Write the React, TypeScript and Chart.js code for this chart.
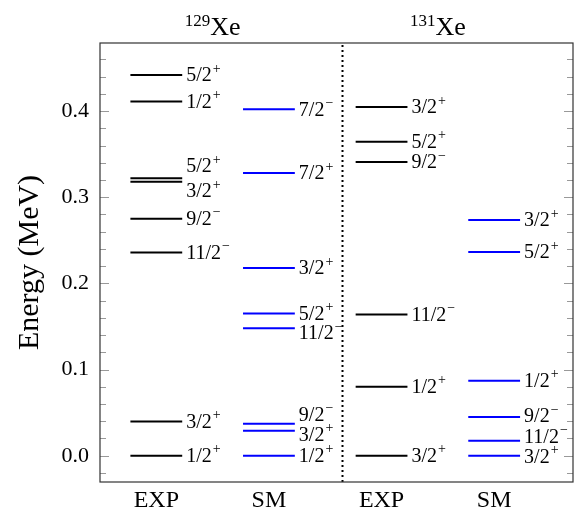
import React, { useEffect, useRef } from 'react';
import { Chart, registerables } from 'chart.js';

Chart.register(...registerables);

// ---- Data ----
const columnCategories = ['EXP', 'SM', 'EXP', 'SM'];
const nucleusTitles = [
  { mass: '129', symbol: 'Xe' },
  { mass: '131', symbol: 'Xe' },
];

const exp129Energies = [0, 0.0396, 0.236, 0.275, 0.318, 0.322, 0.411, 0.442];
const exp129Spins = ['1/2+', '3/2+', '11/2-', '9/2-', '3/2+', '5/2+', '1/2+', '5/2+'];
const exp129LabelE = [0, 0.0396, 0.236, 0.275, 0.307, 0.336, 0.411, 0.442];

const sm129Energies = [0, 0.029, 0.037, 0.148, 0.165, 0.218, 0.328, 0.402];
const sm129Spins = ['1/2+', '3/2+', '9/2-', '11/2-', '5/2+', '3/2+', '7/2+', '7/2-'];
const sm129LabelE = [0, 0.0243, 0.0475, 0.1426, 0.165, 0.218, 0.328, 0.402];

const exp131Energies = [0, 0.080, 0.164, 0.341, 0.3645, 0.4048];
const exp131Spins = ['3/2+', '1/2+', '11/2-', '9/2-', '5/2+', '3/2+'];
const exp131LabelE = [0, 0.080, 0.164, 0.341, 0.3645, 0.4048];

const sm131Energies = [0, 0.0174, 0.045, 0.087, 0.2365, 0.2736];
const sm131Spins = ['3/2+', '11/2-', '9/2-', '1/2+', '5/2+', '3/2+'];
const sm131LabelE = [-0.001, 0.022, 0.046, 0.087, 0.2365, 0.2736];

const yMajorTicks = [0, 0.1, 0.2, 0.3, 0.4];
const yMinorTicks = [-0.02, 0.02, 0.04, 0.06, 0.08, 0.12, 0.14, 0.16, 0.18, 0.22, 0.24, 0.26, 0.28, 0.32, 0.34, 0.36, 0.38, 0.42, 0.44, 0.46];
const yTitle = 'Energy (MeV)';

// ---- Styling / layout ----
const FONT = '"Liberation Serif", "DejaVu Serif", serif';
const HALF = 0.23;
const DIVIDER_X = 1.645;
const EXP_COLOR = '#000000';
const SM_COLOR = '#0000ff';

const columns = [
  { center: 0, energies: exp129Energies, spins: exp129Spins, labelE: exp129LabelE, color: EXP_COLOR },
  { center: 1, energies: sm129Energies, spins: sm129Spins, labelE: sm129LabelE, color: SM_COLOR },
  { center: 2, energies: exp131Energies, spins: exp131Spins, labelE: exp131LabelE, color: EXP_COLOR },
  { center: 3, energies: sm131Energies, spins: sm131Spins, labelE: sm131LabelE, color: SM_COLOR },
];

function levelPoints(center: number, energies: number[]) {
  const pts: { x: number; y: number | null }[] = [];
  energies.forEach((e) => {
    pts.push({ x: center - HALF, y: e });
    pts.push({ x: center + HALF, y: e });
    pts.push({ x: center + HALF, y: null });
  });
  return pts;
}

const decorPlugin = {
  id: 'decor',
  afterDraw(chart: any) {
    const { ctx, chartArea } = chart;
    const xs = chart.scales.x;
    const ys = chart.scales.y;
    const { left, right, top, bottom } = chartArea;
    ctx.save();

    // dotted divider
    const dx = Math.round(xs.getPixelForValue(DIVIDER_X)) + 0.5;
    ctx.strokeStyle = '#000';
    ctx.lineWidth = 2;
    ctx.setLineDash([2, 3]);
    ctx.beginPath();
    ctx.moveTo(dx, top + 2);
    ctx.lineTo(dx, bottom);
    ctx.stroke();
    ctx.setLineDash([]);

    // ticks (inward, both sides)
    ctx.strokeStyle = '#999';
    ctx.lineWidth = 1;
    const drawTick = (v: number, len: number) => {
      const y = Math.round(ys.getPixelForValue(v)) + 0.5;
      ctx.beginPath();
      ctx.moveTo(left, y);
      ctx.lineTo(left + len, y);
      ctx.moveTo(right, y);
      ctx.lineTo(right - len, y);
      ctx.stroke();
    };
    yMajorTicks.forEach((v) => drawTick(v, 9));
    yMinorTicks.forEach((v) => drawTick(v, 6));

    // frame
    ctx.strokeStyle = '#333';
    ctx.lineWidth = 1.2;
    ctx.strokeRect(left, top, right - left, bottom - top);

    // level labels
    ctx.fillStyle = '#000';
    ctx.textBaseline = 'middle';
    ctx.textAlign = 'left';
    columns.forEach((col) => {
      const x0 = xs.getPixelForValue(col.center + HALF) + 4;
      col.spins.forEach((s, i) => {
        const y = ys.getPixelForValue(col.labelE[i]);
        const main = s.slice(0, -1);
        const sign = s.slice(-1) === '-' ? '\u2212' : '+';
        ctx.font = `20px ${FONT}`;
        ctx.fillText(main, x0, y + 1);
        const w = ctx.measureText(main).width;
        ctx.font = `14px ${FONT}`;
        ctx.fillText(sign, x0 + w + 1, y - 6);
      });
    });

    // nucleus titles
    nucleusTitles.forEach((t, i) => {
      const cx = xs.getPixelForValue(i * 2 + 0.5);
      ctx.font = `17px ${FONT}`;
      const wm = ctx.measureText(t.mass).width;
      ctx.font = `26px ${FONT}`;
      const ws = ctx.measureText(t.symbol).width;
      const x0 = cx - (wm + ws) / 2;
      ctx.textBaseline = 'alphabetic';
      ctx.font = `17px ${FONT}`;
      ctx.fillText(t.mass, x0, 26);
      ctx.font = `26px ${FONT}`;
      ctx.fillText(t.symbol, x0 + wm, 35);
    });

    // y title
    ctx.save();
    ctx.translate(30, (top + bottom) / 2);
    ctx.rotate(-Math.PI / 2);
    ctx.textAlign = 'center';
    ctx.textBaseline = 'middle';
    ctx.font = `30px ${FONT}`;
    ctx.fillText(yTitle, 0, 0);
    ctx.restore();

    ctx.restore();
  },
};

export default function App() {
  const ref = useRef<HTMLCanvasElement | null>(null);
  useEffect(() => {
    if (!ref.current) return;
    const chart = new Chart(ref.current, {
      type: 'line',
      data: {
        datasets: columns.map((col, i) => ({
          label: `${columnCategories[i]} ${i}`,
          data: levelPoints(col.center, col.energies) as any,
          borderColor: col.color,
          backgroundColor: col.color,
          borderWidth: 2,
          pointRadius: 0,
          spanGaps: false,
          fill: false,
        })),
      },
      options: {
        animation: false,
        responsive: false,
        layout: { padding: { top: 43, right: 8, left: 0, bottom: 0 } },
        plugins: { legend: { display: false }, tooltip: { enabled: false }, title: { display: false } },
        scales: {
          x: {
            type: 'linear',
            min: -0.5,
            max: 3.7,
            grid: { display: false, drawTicks: false },
            border: { display: false },
            afterBuildTicks: (s: any) => {
              s.ticks = columnCategories.map((_, i) => ({ value: i }));
            },
            afterFit: (s: any) => {
              s.height = 40;
            },
            ticks: {
              padding: 4,
              color: '#000',
              font: { family: FONT, size: 24 },
              maxRotation: 0,
              autoSkip: false,
              callback: (v: any) => columnCategories[Math.round(Number(v))] ?? '',
            },
          },
          y: {
            type: 'linear',
            min: -0.0305,
            max: 0.479,
            grid: { display: false, drawTicks: false },
            border: { display: false },
            afterBuildTicks: (s: any) => {
              s.ticks = yMajorTicks.map((v) => ({ value: v }));
            },
            afterFit: (s: any) => {
              s.width = 100;
            },
            ticks: {
              padding: 11,
              color: '#000',
              font: { family: FONT, size: 22 },
              callback: (v: any) => Number(v).toFixed(1),
            },
          },
        },
      },
      plugins: [decorPlugin],
    });
    return () => chart.destroy();
  }, []);
  return (
    <div style={{ position: 'absolute', left: 0, top: 0, width: 581, height: 522, background: '#fff' }}>
      <canvas ref={ref} width={581} height={522} style={{ display: 'block' }} />
    </div>
  );
}
